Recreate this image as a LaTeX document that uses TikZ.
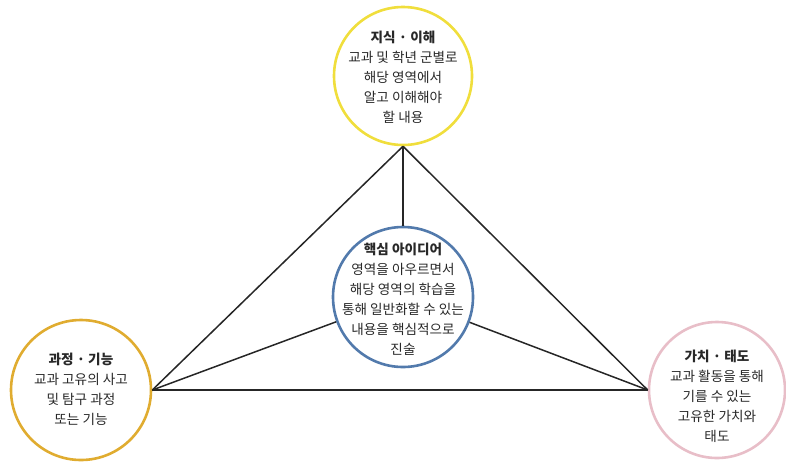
\documentclass[tikz,border=0pt]{standalone}
\usepackage{fontspec}
\setmainfont{Noto Sans CJK KR}
\definecolor{cyellow}{RGB}{240,222,60}
\definecolor{cgold}{RGB}{224,172,48}
\definecolor{cblue}{RGB}{82,122,172}
\definecolor{cpink}{RGB}{232,190,200}
\definecolor{ctext}{RGB}{40,40,40}
\tikzset{
  bubble/.style={circle, line width=2.6pt, minimum size=#1, inner sep=0pt},
  caption/.style={align=center, inner sep=0pt, text=ctext, font=\fontsize{13.6}{20}\selectfont},
  link/.style={line width=1.5pt, draw=black!85},
}
\begin{document}
\begin{tikzpicture}[x=1pt,y=-1pt]
\useasboundingbox (0,0) rectangle (786,461);
\node[bubble=138pt, draw=cyellow] (know) at (403,76) {};
\node[caption] (knowt) at (403,77) {\textbf{지식 · 이해}\\교과 및 학년 군별로\\해당 영역에서\\알고 이해해야\\할 내용};
\node[bubble=140pt, draw=cblue] (core) at (403,297) {};
\node[caption] (coret) at (403,299) {\textbf{핵심 아이디어}\\영역을 아우르면서\\해당 영역의 학습을\\통해 일반화할 수 있는\\내용을 핵심적으로\\진술};
\node[bubble=140pt, draw=cgold] (proc) at (81,390) {};
\node[caption] (proct) at (81,389) {\textbf{과정 · 기능}\\교과 고유의 사고\\및 탐구 과정\\또는 기능};
\node[bubble=136pt, draw=cpink] (value) at (717,390) {};
\node[caption] (valuet) at (717,396) {\textbf{가치 · 태도}\\교과 활동을 통해\\기를 수 있는\\고유한 가치와\\태도};
\draw[link] (know.south) -- (proc.east);
\draw[link] (know.south) -- (value.west);
\draw[link] (proc.east) -- (value.west);
\draw[link] (know.south) -- (core.north);
\draw[link] (core) -- (proc.east);
\draw[link] (core) -- (value.west);
\end{tikzpicture}
\end{document}
